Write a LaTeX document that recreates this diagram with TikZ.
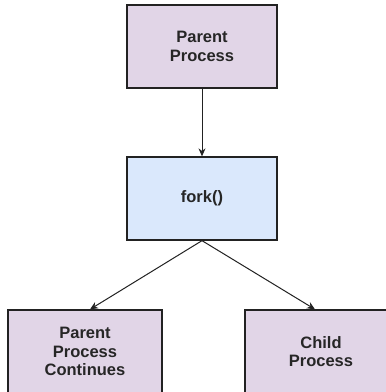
\documentclass[tikz,border=0pt]{standalone}
\usepackage{fontspec}
\setmainfont{Liberation Sans}
\usetikzlibrary{arrows.meta,calc}
\definecolor{procfill}{HTML}{E1D5E7}
\definecolor{forkfill}{HTML}{DAE8FC}
\definecolor{edge}{HTML}{222222}
\begin{document}
\begin{tikzpicture}[x=1pt,y=-1pt,
  box/.style={draw=edge,line width=1.3pt,minimum width=#1,minimum height=83pt,inner sep=0pt,
    align=center,font=\fontsize{16.5}{18.5}\selectfont\bfseries,text=black!85},
  box/.default=150pt,
  arr/.style={draw=edge,line width=1pt,-{Stealth[length=8pt,width=7pt]}}]
\fill[white] (0,0) rectangle (386,392);
\useasboundingbox (0,0) rectangle (386,392);
\clip (0,0) rectangle (386,392);
\node[box=150pt,fill=procfill] (pp) at (202,46.5) {Parent\\Process};
\node[box=150pt,fill=forkfill] (fk) at (202,198.5) {fork()};
\node[box=154pt,fill=procfill] (pc) at (85,351.5) {Parent\\Process\\Continues};
\node[box=152pt,fill=procfill] (cp) at (321,351.5) {Child\\Process};
\draw[arr] (pp.south) -- (fk.north);
\draw[arr] (fk.south) -- ($(pc.north)+(5,0)$);
\draw[arr] (fk.south) -- ($(cp.north)+(-6,0)$);
\end{tikzpicture}
\end{document}
